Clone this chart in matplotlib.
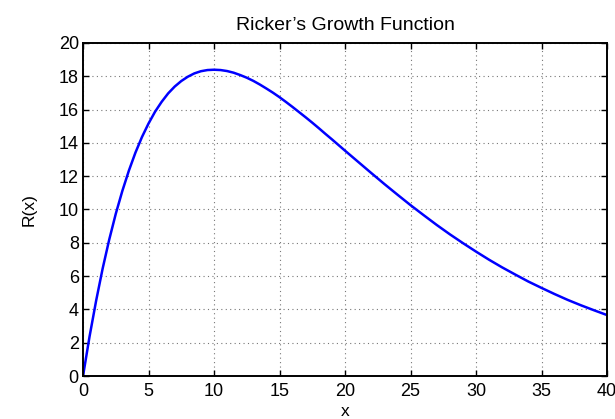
import numpy as np
import matplotlib
matplotlib.use('Agg')
import matplotlib.pyplot as plt

# values
x = [0, 0.5, 1, 1.5, 2, 2.5, 3, 3.5, 4, 4.5, 5, 5.5, 6, 6.5, 7, 7.5, 8, 8.5, 9, 9.5,
     10, 10.5, 11, 11.5, 12, 12.5, 13, 13.5, 14, 14.5, 15, 15.5, 16, 16.5, 17, 17.5,
     18, 18.5, 19, 19.5, 20,
     21, 22, 23, 24, 25, 26, 27, 28, 29, 30, 31, 32, 33, 34, 35, 36, 37, 38, 39, 40]
r = [0, 2.38, 4.52, 6.46, 8.19, 9.74, 11.11, 12.33, 13.41, 14.35, 15.16, 15.87, 16.46,
     16.97, 17.38, 17.71, 17.97, 18.17, 18.30, 18.37,
     18.39, 18.37, 18.31, 18.21, 18.07, 17.91, 17.72, 17.50, 17.26, 17.01, 16.74, 16.45,
     16.15, 15.84, 15.53, 15.21, 14.88, 14.54, 14.21, 13.87, 13.53,
     12.86, 12.19, 11.53, 10.89, 10.26, 9.66, 9.07, 8.51, 7.98, 7.47, 6.98, 6.52, 6.09,
     5.67, 5.29, 4.92, 4.57, 4.25, 3.95, 3.66]
xticks = [0, 5, 10, 15, 20, 25, 30, 35, 40]
yticks = [0, 2, 4, 6, 8, 10, 12, 14, 16, 18, 20]

plt.rcParams['font.family'] = ['Liberation Sans', 'DejaVu Sans']

fig = plt.figure(figsize=(6.15, 4.19), dpi=100)
ax = fig.add_axes([0.135, 0.1026, 0.852, 0.795])
ax.plot(x, r, color='#0000ff', lw=1.8, solid_joinstyle='round')
ax.set_xlim(0, 40)
ax.set_ylim(0, 20)
ax.set_xticks(xticks)
ax.set_yticks(yticks)
ax.tick_params(direction='in', top=True, right=True, length=4, width=1, labelsize=13, pad=3)
ax.tick_params(axis='x', pad=5)
ax.grid(True, linestyle=(0, (1, 3)), color='#777777', lw=0.8)
for s in ax.spines.values():
    s.set_linewidth(1.4)
ax.set_title("Ricker\u2019s Growth Function", fontsize=14, pad=9)
ax.set_xlabel('x', fontsize=12.5, labelpad=3)
ax.set_ylabel('R(x)', fontsize=12.5, labelpad=16)
fig.savefig('out.png', dpi=100)
